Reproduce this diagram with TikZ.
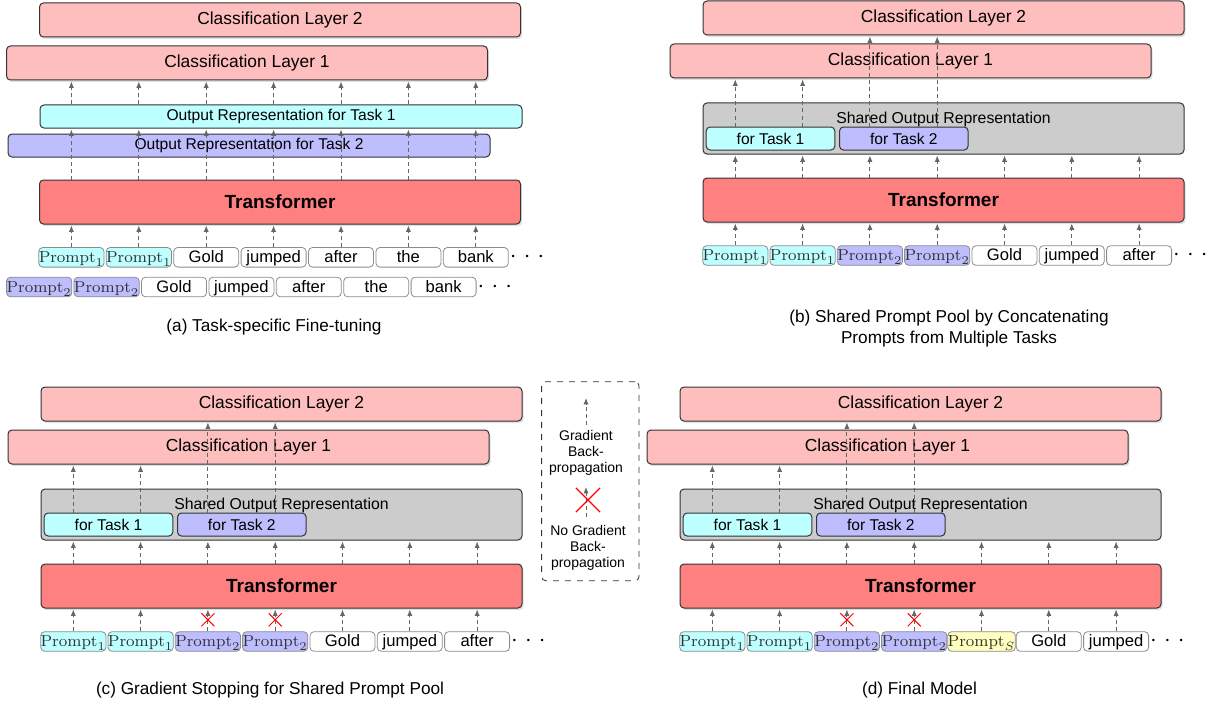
\RequirePackage{fix-cm}
\documentclass[tikz,border=0pt]{standalone}
\usepackage[no-math]{fontspec}
\setmainfont{Liberation Sans}
\usepackage{tikz}
\usetikzlibrary{positioning,arrows.meta,shapes.misc,shadows}
\definecolor{clspink}{RGB}{255,190,190}
\definecolor{transred}{RGB}{255,128,128}
\definecolor{taskone}{RGB}{190,255,255}
\definecolor{tasktwo}{RGB}{190,190,255}
\definecolor{taskshare}{RGB}{255,255,190}
\definecolor{sharedgray}{RGB}{204,204,204}
\tikzset{
  layerbox/.style={draw=black!80, rounded corners=2pt, inner sep=0pt, line width=0.5pt},
  cls/.style={layerbox, fill=clspink, minimum width=240.5pt, minimum height=17pt,
              font=\fontsize{8.7}{10}\selectfont,
              drop shadow={shadow xshift=0.8pt, shadow yshift=-1pt, opacity=0.25}},
  trans/.style={layerbox, fill=transred, minimum width=240.5pt, minimum height=22pt,
                font=\fontsize{9.5}{11}\selectfont\bfseries,
                drop shadow={shadow xshift=0.8pt, shadow yshift=-1pt, opacity=0.25}},
  outrep/.style={layerbox, minimum width=241pt, minimum height=11.5pt, font=\fontsize{7.8}{9}\selectfont},
  sharedbox/.style={layerbox, fill=sharedgray, minimum width=240.5pt, minimum height=25.5pt},
  fortask/.style={layerbox, minimum width=64.3pt, minimum height=11.5pt, font=\fontsize{7.8}{9}\selectfont},
  tok/.style={draw=black!45, rounded corners=2pt, inner sep=0pt, line width=0.4pt,
              minimum width=32.5pt, minimum height=9.8pt, text height=6.4pt, text depth=1.2pt},
  word/.style={tok, fill=white, font=\fontsize{8.3}{9}\selectfont},
  pone/.style={tok, fill=taskone, text=black!80, font=\fontsize{8}{9}\selectfont},
  ptwo/.style={tok, fill=tasktwo, text=black!80, font=\fontsize{8}{9}\selectfont},
  pshare/.style={tok, fill=taskshare, text=black!80, font=\fontsize{8}{9}\selectfont},
  dots/.style={inner sep=0pt, font=\fontsize{12}{12}\selectfont},
  garrow/.style={draw=black!60, line width=0.45pt, dash pattern=on 2pt off 1.5pt,
                 -{Latex[length=3.2pt,width=2.6pt]}, shorten >=0.5pt},
  xmark/.style={cross out, draw=red, line width=0.5pt, inner sep=0pt, minimum size=6pt},
  caption/.style={font=\fontsize{8.6}{10.5}\selectfont, align=center},
}

\begin{document}
\begin{tikzpicture}[x=0.5pt, y=-0.5pt]
  \useasboundingbox (0,0) rectangle (1219,706);

  % (a) task-specific fine-tuning
  \node[cls] (acl2) at (280,20) {Classification Layer 2};
  \node[cls] (acl1) at (247,63) {Classification Layer 1};
  \node[outrep, fill=taskone] (aout1) at (281,116.5) {Output Representation for Task 1};
  \node[outrep, fill=tasktwo] (aout2) at (249,145.5) {Output Representation for Task 2};
  \node[trans] (atf) at (280,202) {Transformer};

  \foreach \i/\s/\t in {0/pone/{$\mathrm{Prompt}_1$}, 1/pone/{$\mathrm{Prompt}_1$}, 2/word/Gold,
                        3/word/jumped, 4/word/after, 5/word/the, 6/word/bank}
    \node[\s] (ta\i) at ({71.4+67.4*\i},257.3) {\t};
  \foreach \i/\s/\t in {0/ptwo/{$\mathrm{Prompt}_2$}, 1/ptwo/{$\mathrm{Prompt}_2$}, 2/word/Gold,
                        3/word/jumped, 4/word/after, 5/word/the, 6/word/bank}
    \node[\s] (tb\i) at ({39.2+67.4*\i},287) {\t};
  \node[dots, right=0.4pt of ta6] (adots1) {$\cdot$\hspace{3.6pt}$\cdot$\hspace{3.6pt}$\cdot$};
  \node[dots, right=0.4pt of tb6] (adots2) {$\cdot$\hspace{3.6pt}$\cdot$\hspace{3.6pt}$\cdot$};

  \foreach \i in {0,...,6} {
    \draw[garrow] (ta\i.north) -- (ta\i.north |- atf.south);
    \draw[garrow] (ta\i.north |- atf.north) -- (ta\i.north |- aout1.south);
    \draw[garrow] (ta\i.north |- aout1.north) -- (ta\i.north |- acl1.south);
  }
  \node[caption] (acap) at (274,327) {(a) Task-specific Fine-tuning};

  % (b), (c), (d) shared prompt pool
  \foreach \p/\dx/\dy/\sa/\ta/\tb/\tc in {b/662/0/word/Gold/jumped/after,
                                          c/0/386/word/Gold/jumped/after,
                                          d/639/386/pshare/{$\mathrm{Prompt}_S$}/Gold/jumped} {
    \begin{scope}[shift={(\dx,\dy)}]
      \node[cls] (\p-cl2) at (281.5,18) {Classification Layer 2};
      \node[cls] (\p-cl1) at (248.5,61) {Classification Layer 1};
      \node[sharedbox] (\p-sh) at (281.5,128.5) {};
      \node[font=\fontsize{7.9}{9}\selectfont] (\p-shtitle) at (281.5,119.5) {Shared Output Representation};
      \node[fortask, fill=taskone] (\p-ft1) at (108.5,138.5) {for Task 1};
      \node[fortask, fill=tasktwo] (\p-ft2) at (241.8,138.5) {for Task 2};
      \node[trans] (\p-tf) at (281.5,200) {Transformer};

      \foreach \i/\s/\t in {0/pone/{$\mathrm{Prompt}_1$}, 1/pone/{$\mathrm{Prompt}_1$},
                            2/ptwo/{$\mathrm{Prompt}_2$}, 3/ptwo/{$\mathrm{Prompt}_2$},
                            4/\sa/\ta, 5/word/\tb, 6/word/\tc}
        \node[\s] (\p-tok\i) at ({73.3+67.3*\i},255.5) {\t};
      \node[dots, right=0.4pt of \p-tok6] (\p-dots) {$\cdot$\hspace{3.6pt}$\cdot$\hspace{3.6pt}$\cdot$};

      \foreach \i in {0,...,6} {
        \draw[garrow] (\p-tok\i.north) -- (\p-tok\i.north |- \p-tf.south);
        \draw[garrow] (\p-tok\i.north |- \p-tf.north) -- (\p-tok\i.north |- \p-sh.south);
      }
      \foreach \i in {0,1}
        \draw[garrow] (\p-tok\i.north |- \p-ft1.north) -- (\p-tok\i.north |- \p-cl1.south);
      \foreach \i in {2,3}
        \draw[garrow] (\p-tok\i.north |- \p-ft2.north) -- (\p-tok\i.north |- \p-cl2.south);
    \end{scope}
  }

  % stopped gradients
  \foreach \p in {c,d}
    \foreach \i in {2,3}
      \node[xmark, above=2.5pt of \p-tok\i] (\p-x\i) {};

  \node[caption] (bcap) at (949,329) {(b) Shared Prompt Pool by Concatenating\\Prompts from Multiple Tasks};
  \node[caption] (ccap) at (270,690) {(c) Gradient Stopping for Shared Prompt Pool};
  \node[caption] (dcap) at (919.5,690) {(d) Final Model};

  % legend
  \node[draw=black!80, dashed, rounded corners=2pt, minimum width=48.7pt, minimum height=99.5pt] (leg) at (590.3,481.2) {};
  \coordinate (leg-a1) at (586,425);
  \coordinate (leg-a2) at (586,397);
  \draw[garrow] (leg-a1) -- (leg-a2);
  \node[font=\fontsize{7}{8}\selectfont, align=center] (leg-t1) at (586,453) {Gradient\\Back-\\propagation};
  \coordinate (leg-b1) at (586,517);
  \coordinate (leg-b2) at (586,486);
  \draw[garrow] (leg-b1) -- (leg-b2);
  \node[xmark, minimum size=11.5pt, line width=0.6pt] (leg-x) at (588,500) {};
  \node[font=\fontsize{7}{8}\selectfont, align=center] (leg-t2) at (588,548) {No Gradient\\Back-\\propagation};
\end{tikzpicture}
\end{document}
